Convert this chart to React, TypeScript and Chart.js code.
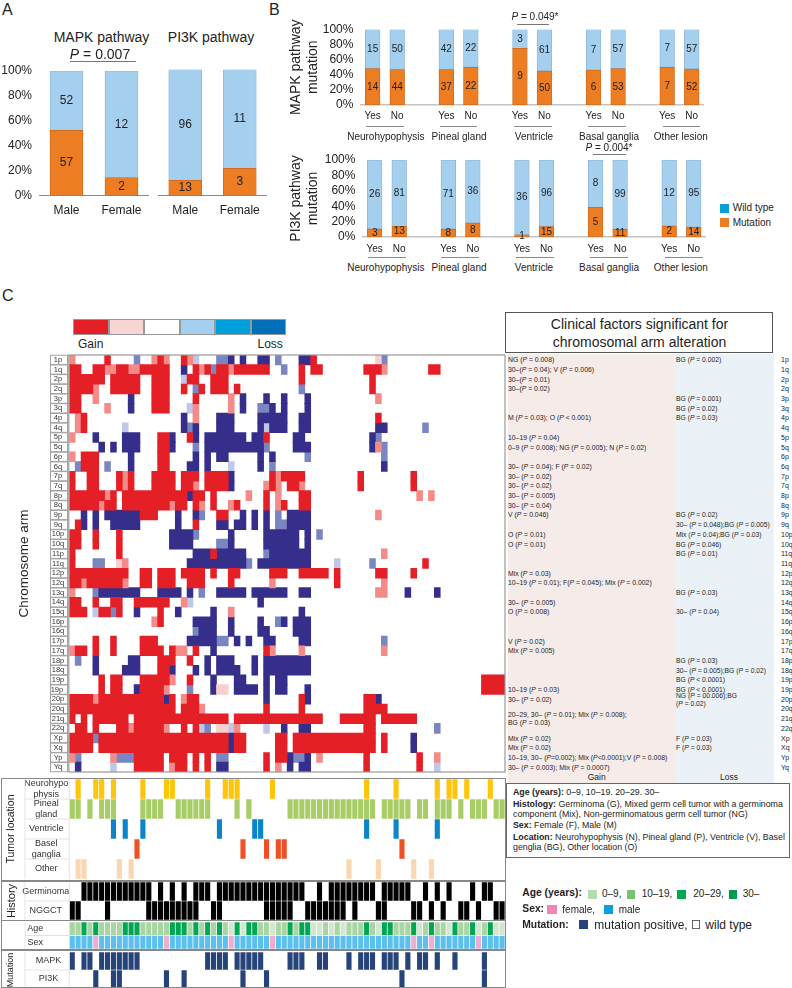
import React, { useEffect, useRef } from "react";
import Chart from "chart.js/auto";

const FONT = '"Liberation Sans", Arial, sans-serif';
const INK = "#222";

// ---------- Panel A data ----------
const sexCategories = ["Male", "Female"];
const mapkSexMutation = [57, 2];
const mapkSexWild = [52, 12];
const pi3kSexMutation = [13, 3];
const pi3kSexWild = [96, 11];

// ---------- Panel B data ----------
const siteCategories = ["Yes", "No", "", "Yes", "No", "", "Yes", "No", "", "Yes", "No", "", "Yes", "No"];
const siteGroups = ["Neurohypophysis", "Pineal gland", "Ventricle", "Basal ganglia", "Other lesion"];
const mapkSiteMutation = [14, 44, null, 37, 22, null, 9, 50, null, 6, 53, null, 7, 52];
const mapkSiteWild = [15, 50, null, 42, 22, null, 3, 61, null, 7, 57, null, 7, 57];
const pi3kSiteMutation = [3, 13, null, 8, 8, null, 1, 15, null, 5, 11, null, 2, 14];
const pi3kSiteWild = [26, 81, null, 71, 36, null, 36, 96, null, 8, 99, null, 12, 95];

// ---------- Panel C heat map data ----------
const armLabels = ["1p", "1q", "2p", "2q", "3p", "3q", "4p", "4q", "5p", "5q", "6p", "6q", "7p", "7q", "8p", "8q", "9p", "9q", "10p", "10q", "11p", "11q", "12p", "12q", "13q", "14q", "15q", "16p", "16q", "17p", "17q", "18p", "18q", "19p", "19p ", "20p", "20q", "21q", "22q", "Xp", "Xq", "Yp", "Yq"];
const sideLabels = ["1p", "1q", "2p", "2q", "3p", "3q", "4p", "4q", "5p", "5q", "6p", "6q", "7p", "7q", "8p", "8q", "9p", "9q", "10p", "10q", "11q", "11q", "12p", "12q", "13q", "14q", "15q", "16p", "16q", "17p", "17q", "18p", "18q", "19p", "19p", "20p", "20q", "21q", "22q", "Xp", "Xq", "Yp", "Yq"];
// R strong gain, r gain, p weak gain, B strong loss, b loss, c weak loss; numbers are patient columns
const armCalls = [
  "r0 R6 b11 r14 R15 r16 R19 r20 c21 b25-26 B27 B29 B32-33 b35 B39-40 R41 p52 b53",
  "R0-1 R4-5 r6-7 R8-9 r10-11 R12-16 B19 R21 r22 R23 b24 R25-26 r27 R28-33 b36 R39 R41-42 R50-52 r53 R61-62",
  "R0-5 R7-11 R14-16 c19 R20-21 R24-26 R39 R51",
  "R0-3 r4 R7-11 R14-16 R19 b21 R22 R24-26 R28 b39 R51",
  "R0-1 r4 B10 R14-16 R21 r27 B29 B33 B36 B40 r52",
  "R0-1 r6 B10 R14-16 c20 r21 r27 B29 b32-33 B34 B36 B40",
  "r1 R2 B19 r21 B25-27 B32-36 B39-40 R52",
  "r1 R2 c9 B19 b20 B21 B25-27 B32 c33 B34-36 B39-40 B52-53 b60",
  "r0 B4 B9-11 R15-16 B17 R20 B21 B23-29 B31-32 R33 B38-39 B51 b52",
  "B5 B7 B9-11 R15-16 B17 b21 B23-32 b33 B38-40 B51 r52 b53",
  "r0 R2-4 B10 R15-16 B21 B23 B25-26 B32 B34 b40 b53",
  "b1 R2-4 b6 B10 R15-16 B20-21 B23 c27 B32 b34 B53",
  "R0 R3-4 R8 r9 R10 R14-17 R19-21 R23-26 B27 R34 r35 R36-39 R49 R58",
  "R0 R3-4 R8 r9 R10 R14-17 R19-20 r21 R23-26 B27 r33 R34 r35 R37-38 r39 R49 R58",
  "R0-5 r6 R7 R9-19 B20 R21-22 R24 r30 R33 r35 R39-40 r59 r61",
  "R0-4 r5 R6-7 R9-16 r17 R18-19 R21 r22 R24 r27 R28 R33 r35 R36 R39-40",
  "B2 B4 B6-11 R12-14 B18 B21 b22 R25-26 B29 B31 B33 b35 B37-40 r52",
  "R1 B2 B4 B7-11 B18 R21 B25-26 B28-29 B31 B33 b35-36 B37-40",
  "R0-1 R4 R8 B17-20 b21 B27 B33-38 B40 b42",
  "R0-1 R4 R8 B17-20 b25-26 B27 B33-38 B40",
  "R0 R8 B21-23 R24 B25-29 b33 B34-40 r53",
  "R0 b4-5 p8 r9 B20-29 b30 B32-40 c45 b51 R60",
  "R0-9 R12-13 R15-17 R19-22 R24 R27-28 R34-36 R39-43 R45 R52-53 R58",
  "R0-1 r2 R3-8 r9 R12-13 R15-17 R20-22 R27 r34 R45 r53",
  "r0 b4 B5-11 B15-18 B20 b22 B25-29 B31-36 B39-40 r52-53 B57 B62",
  "R0-1 R4 R7-8 R11-16 r19 c20 B32",
  "R0-2 c4 R5-6 b7 R8 B11 R15 B18 B24 r27 B39",
  "r14 R15 B21-24 B27 B32 b35 B36 B38-40",
  "b21 B22-24 B27 B32-33 B38-40",
  "R4 R7 R12-14 B20-24 b25-26 B28 B30 B33-34 B39-40 b53",
  "r0 R1-2 R4 R7 R12-15 R17 r18-19 R21 B24 R33 r34 r39 r53",
  "b1 B4 B10-11 R15-17 R20 B23 B25-27 B31 B33-40",
  "B4 B9-11 R15-16 B17 B21 B23 B25-28 B31 B33-40",
  "R5 R7-8 R12-16 r17 R20 B24 B28-29 B33 B35-36 R70-73",
  "R5 R7-8 B11 R12-15 r16 b20 B24 p25-26 B28-31 B33 B35-36 B40 R70-73",
  "R0-3 r4 R5-15 B16 R17 r19 R20-21 B33 R39 B40 R50-51 B52",
  "R0-17 R19-21 r22 R33 R39 R50-53",
  "R0 R2 R4-9 R11-26 R28-42 R46-51 R53-58",
  "R1-2 R4 R8-9 r10 R11-15 r16 R19 R21 c22 b23 p25-26 c27 r28 c33 B36 B39-40 R50-51 b62",
  "R0-3 b4 R5-26 B27 R28-29 R35-36 R38-51 R53 B58",
  "R0-3 R5-26 B27 R28-29 R35-36 R38-51 R53 B58",
  "r0 b1 r7 b8-10 R11-15 R17-19 R21 R23 b25-26 R33 R35-36 B37 b38-39 B40 r42 R50 R59 r62",
  "B1 c7 R11-15 r17 R18-19 R21 R23 B25-26 R33 r35 B37 B39-40 R50 R59 c62",
];
const patientCount = 74;

// ---------- annotation tracks ----------
const locNeuro = [1, 4, 5, 7, 12, 16, 17, 23, 26, 27, 28, 34, 50, 55, 62, 64, 65, 67, 71];
const locPineal = [0, 1, 3, 5, 6, 7, 12, 13, 14, 15, 18, 19, 20, 21, 22, 23, 28, 30, 37, 38, 39, 40, 41, 42, 43, 44, 45, 46, 47, 48, 49, 50, 51, 53, 54, 55, 56, 57, 59, 60, 62, 63, 64, 66, 68, 69, 70, 72, 73];
const locVentricle = [7, 9, 12, 25, 31, 32, 50, 55, 62];
const locBasal = [11, 29, 33, 35, 36, 56];
const locOther = [1, 2, 8, 10, 47, 52, 58, 61];
const histGerminoma = [2, 3, 4, 5, 6, 7, 8, 9, 10, 11, 12, 13, 15, 17, 19, 21, 22, 23, 25, 26, 27, 28, 29, 30, 31, 32, 33, 34, 35, 36, 37, 38, 39, 42, 44, 45, 46, 47, 48, 49, 50, 51, 53, 54, 55, 56, 57, 60, 62, 64, 68, 70, 71];
const histNggct = [0, 1, 6, 13, 14, 15, 16, 17, 18, 19, 20, 21, 24, 25, 33, 34, 35, 36, 37, 40, 41, 42, 43, 44, 45, 46, 48, 52, 53, 58, 59, 61, 63, 66, 67, 69, 72, 73];
const ageYoung = [27, 29, 34, 41, 42, 44, 46, 52, 59, 64, 69, 72, 73];
const ageMiddle = [0, 1, 3, 5, 6, 7, 8, 12, 13, 14, 15, 16, 20, 22, 24, 26, 32, 33, 35, 36, 38, 43, 45, 47, 48, 49, 51, 55, 56, 57, 60, 62, 63, 66, 67, 70];
const ageOld = [2, 4, 9, 10, 11, 17, 18, 19, 21, 23, 25, 28, 30, 31, 37, 39, 40, 50, 53, 54, 58, 61, 65, 68, 71];
const sexFemale = [4, 16, 27, 34, 58, 61, 69];
const sexMale = [0, 1, 2, 3, 5, 6, 7, 8, 9, 10, 11, 12, 13, 14, 15, 17, 18, 19, 20, 21, 22, 23, 24, 25, 26, 28, 29, 30, 31, 32, 33, 35, 36, 37, 38, 39, 40, 41, 42, 43, 44, 45, 46, 47, 48, 49, 50, 51, 52, 53, 54, 55, 56, 57, 59, 60, 62, 63, 64, 65, 66, 67, 68, 70, 71, 72, 73];
const mutMapk = [0, 2, 3, 5, 6, 7, 8, 9, 10, 11, 23, 24, 25, 26, 28, 29, 30, 31, 32, 37, 38, 39, 42, 43, 47, 49, 50, 51, 53, 54, 55, 57, 59, 60, 62, 65, 70];
const mutPi3k = [4, 7, 8, 16, 19, 29, 33, 56, 70];

// ---------- clinical table ----------
const gainNotes = ["NG (P = 0.008)", "30–(P = 0.04); V (P = 0.006)", "30–(P = 0.01)", "30–(P = 0.02)", "", "", "M (P = 0.03); O (P < 0.001)", "", "10–19 (P = 0.04)", "0–9 (P = 0.008); NG (P = 0.005); N (P = 0.02)", "", "30– (P = 0.04); F (P = 0.02)", "30– (P = 0.02)", "30– (P = 0.02)", "30– (P = 0.005)", "30– (P = 0.04)", "V (P = 0.046)", "", "O (P = 0.01)", "O (P = 0.01)", "", "", "Mix (P = 0.03)", "10–19 (P = 0.01); F(P = 0.045); Mix (P = 0.002)", "", "30– (P = 0.005)", "O (P = 0.008)", "", "", "V (P = 0.02)", "Mix (P = 0.005)", "", "", "", "10–19 (P = 0.03)", "30– (P = 0.02)", "", "20–29, 30– (P = 0.01); Mix (P = 0.008);\nBG (P = 0.03)", "", "Mix (P = 0.02)", "Mix (P = 0.02)", "10–19, 30– (P=0.002); Mix (P<0.0001);V (P = 0.008)", "30– (P = 0.003); Mix (P = 0.0007)"];
const lossNotes = ["BG (P = 0.002)", "", "", "", "BG (P = 0.001)", "BG (P = 0.02)", "BG (P = 0.03)", "", "", "", "", "", "", "", "", "", "BG (P = 0.02)", "30– (P = 0.048);BG (P = 0.005)", "Mix (P = 0.04);BG (P = 0.03)", "BG (P = 0.046)", "BG (P = 0.01)", "", "", "", "BG (P = 0.03)", "", "30– (P = 0.04)", "", "", "", "", "BG (P = 0.03)", "30– (P = 0.005);BG (P = 0.02)", "BG (P < 0.0001)", "BG (P < 0.0001)", "NG (P = 00.006);BG\n(P = 0.02)", "", "", "", "F (P = 0.03)", "F (P = 0.03)", "", ""];

// ---------- styles ----------
const WILD = "#a5cfee";
const MUT = "#ec7d22";
const levelColors: Record<string, string> = { R: "#e41f26", r: "#f48b89", p: "#f7cfce", B: "#352e8a", b: "#7a86c2", c: "#bfc8e8" };

const pct = (a: (number | null)[], b: (number | null)[]) =>
  a.map((v, i) => (v == null ? null : (v / (v + (b[i] as number))) * 100));

const fitWidth = (w: number) => (s: any) => {
  s.width = w;
  s.paddingTop = 0;
  s.paddingBottom = 0;
};
const fitHeight = (h: number) => (s: any) => {
  s.height = h;
  s.paddingLeft = 0;
  s.paddingRight = 0;
};

const countPlugin = {
  id: "countLabels",
  afterDatasetsDraw(chart: any) {
    const { ctx } = chart;
    const size = chart.options.plugins.countLabels.size;
    ctx.save();
    ctx.fillStyle = INK;
    ctx.font = `${size}px ${FONT}`;
    ctx.textAlign = "center";
    ctx.textBaseline = "middle";
    chart.data.datasets.forEach((ds: any, d: number) => {
      chart.getDatasetMeta(d).data.forEach((el: any, i: number) => {
        if (ds.counts[i] == null) return;
        const mid = (el.y + el.base) / 2;
        ctx.fillText(String(ds.counts[i]), el.x, mid);
      });
    });
    ctx.restore();
  },
};

function stackedConfig(opts: any) {
  const { categories, mutation, wild, barW, fontSize, labelSize, plotLeft, plotTop, axisH, showY, titleLines, titleSize, tickPad, border, borderW } = opts;
  return {
    type: "bar",
    data: {
      labels: categories,
      datasets: [
        { label: "Mutation", data: pct(mutation, wild), counts: mutation, backgroundColor: MUT, borderColor: "#c9681c", borderWidth: 0.8, borderSkipped: false, stack: "s", barThickness: barW },
        { label: "Wild type", data: pct(wild, mutation), counts: wild, backgroundColor: WILD, borderColor: "#8fb3cf", borderWidth: 0.8, borderSkipped: false, stack: "s", barThickness: barW },
      ],
    },
    options: {
      responsive: false,
      animation: false,
      layout: { padding: { top: plotTop, left: 0, right: 0, bottom: 0 } },
      plugins: { legend: { display: false }, tooltip: { enabled: false }, countLabels: { size: labelSize } },
      scales: {
        x: {
          stacked: true,
          grid: { display: false, drawTicks: false },
          border: { display: true, color: border, width: borderW },
          afterFit: fitHeight(axisH),
          ticks: { font: { size: fontSize, family: FONT }, color: INK, padding: tickPad, autoSkip: false, maxRotation: 0 },
        },
        y: {
          stacked: true,
          min: 0,
          max: 100,
          display: showY,
          grid: { display: false, drawTicks: false },
          border: { display: false },
          afterFit: fitWidth(plotLeft),
          title: titleLines ? { display: true, text: titleLines, color: INK, font: { size: titleSize, family: FONT, lineHeight: 1.24 }, padding: { top: 1, bottom: 0 } } : { display: false },
          ticks: { stepSize: 20, autoSkip: false, font: { size: 12, family: FONT }, color: INK, padding: 7, callback: (v: number) => v + "%" },
        },
      },
    },
    plugins: [countPlugin],
  };
}

function parseCalls() {
  const byLevel: Record<string, any[]> = { R: [], r: [], p: [], B: [], b: [], c: [] };
  armCalls.forEach((line, row) => {
    line.split(" ").forEach((tok) => {
      const m = tok.match(/^([RrpBbc])(\d+)(?:-(\d+))?$/);
      if (!m) return;
      const a = +m[2];
      const b = m[3] ? +m[3] : a;
      byLevel[m[1]].push({ y: armLabels[row], x: [a, b + 1] });
    });
  });
  return byLevel;
}

const boxPlugin = {
  id: "armBoxes",
  afterDraw(chart: any) {
    const { ctx, chartArea: a, scales } = chart;
    ctx.save();
    ctx.strokeStyle = "#a3a3a3";
    ctx.lineWidth = 1;
    armLabels.forEach((_, i) => {
      const c = scales.y.getPixelForTick(i);
      ctx.strokeRect(50.5, c - 4.6, 17, 9.2);
    });
    ctx.lineWidth = 1.2;
    ctx.strokeStyle = "#999";
    ctx.strokeRect(a.left - 0.5, a.top, a.right - a.left + 0.5, a.bottom - a.top);
    ctx.restore();
  },
};

function heatConfig() {
  const byLevel = parseCalls();
  return {
    type: "bar",
    data: {
      labels: armLabels,
      datasets: Object.keys(byLevel).map((k) => ({
        label: k,
        data: byLevel[k],
        backgroundColor: levelColors[k],
        borderWidth: 0,
        barThickness: 9.9,
        grouped: false,
      })),
    },
    options: {
      indexAxis: "y",
      responsive: false,
      animation: false,
      layout: { padding: { top: 10, bottom: 3, left: 0, right: 1 } },
      plugins: { legend: { display: false }, tooltip: { enabled: false } },
      scales: {
        x: { type: "linear", min: 0, max: patientCount, display: false },
        y: {
          type: "category",
          grid: { display: false, drawTicks: false },
          border: { display: false },
          afterFit: fitWidth(69.3),
          title: { display: true, text: "Chromosome arm", color: INK, font: { size: 13.5, family: FONT }, padding: { top: 16, bottom: 0 } },
          ticks: { autoSkip: false, font: { size: 7.5, family: FONT }, color: "#333", padding: 4, crossAlign: "center" },
        },
      },
    },
    plugins: [boxPlugin],
  };
}

const rowLinePlugin = {
  id: "rowLines",
  afterDraw(chart: any) {
    const { ctx, chartArea: a } = chart;
    const n = chart.data.labels.length;
    ctx.save();
    ctx.strokeStyle = "#dcdcdc";
    ctx.lineWidth = 0.8;
    ctx.beginPath();
    for (let i = 1; i < n; i++) {
      const y = a.top + ((a.bottom - a.top) * i) / n;
      ctx.moveTo(25, y);
      ctx.lineTo(a.left, y);
    }
    ctx.moveTo(25, a.top);
    ctx.lineTo(25, a.bottom);
    ctx.moveTo(a.left, a.top);
    ctx.lineTo(a.left, a.bottom);
    ctx.stroke();
    ctx.restore();
  },
};

function trackConfig(rows: { label: string; cols: number[]; color: string; lane?: string }[], labels: string[], title: string, titleSize: number, labelPad: number) {
  return {
    type: "bar",
    data: {
      labels,
      datasets: rows.map((r) => ({
        label: r.label,
        data: r.cols.map((c) => ({ y: r.lane ?? r.label, x: [c, c + 1] })),
        backgroundColor: r.color,
        borderColor: "rgba(255,255,255,0.55)",
        borderWidth: 0.7,
        borderSkipped: false,
        categoryPercentage: 1,
        barPercentage: 1,
        grouped: false,
      })),
    },
    options: {
      indexAxis: "y",
      responsive: false,
      animation: false,
      layout: { padding: 0 },
      plugins: { legend: { display: false }, tooltip: { enabled: false } },
      scales: {
        x: { type: "linear", min: 0, max: patientCount, display: false },
        y: {
          type: "category",
          grid: { display: false, drawTicks: false },
          border: { display: false },
          afterFit: fitWidth(69.3),
          title: { display: !!title, text: title, color: INK, font: { size: titleSize, family: FONT }, padding: { top: 5, bottom: 0 } },
          ticks: { autoSkip: false, font: { size: 9, family: FONT }, color: "#333", padding: labelPad, crossAlign: "center", callback: (_: any, i: number) => labels[i].split("|") },
        },
      },
    },
    plugins: [rowLinePlugin],
  };
}

function ChartBox({ left, top, width, height, config }: any) {
  const ref = useRef<HTMLCanvasElement>(null);
  useEffect(() => {
    const chart = new Chart(ref.current as HTMLCanvasElement, config());
    return () => chart.destroy();
  }, []);
  return <canvas ref={ref} width={width} height={height} style={{ position: "absolute", left, top, width, height, display: "block" }} />;
}

function T({ x, y, size, align = "left", bold, children, color = INK }: any) {
  const tx = align === "center" ? "-50%" : align === "right" ? "-100%" : "0";
  return (
    <div style={{ position: "absolute", left: x, top: y, fontSize: size, fontWeight: bold ? 700 : 400, color, whiteSpace: "pre", lineHeight: 1.2, transform: `translate(${tx},-50%)`, textAlign: align, opacity: 0.99 }}>
      {children}
    </div>
  );
}

const Rect = ({ x, y, w, h, c, b }: any) => (
  <div style={{ position: "absolute", left: x, top: y, width: w, height: h, background: c, border: b, boxSizing: "border-box" }} />
);

// italicises the statistic symbol P in the notes
function ital(s: string) {
  return s.split(/(\bP\b)/).map((p, i) => (p === "P" ? <i key={i}>P</i> : <span key={i}>{p}</span>));
}

const rowY = (r: number) => 355 + 9.7 * (r + 0.5) + 0.4;
const colorbar = ["#e41f26", "#f6d5d3", "#ffffff", "#a5cfee", "#00a0dc", "#0070b8"];
const groupCenters = [385.8, 459, 534, 609, 680.8];
const topLines = [[366, 404], [439.7, 477.5], [514, 552], [588, 625.7], [662.7, 700]];
const botLines = [[367.7, 405.7], [441.3, 479.3], [516.3, 554.3], [590, 628], [664.7, 702.7]];

export default function App() {
  const locLabels = ["Neurohypo|physis", "Pineal|gland", "Ventricle", "Basel|ganglia", "Other"];
  return (
    <div style={{ position: "absolute", left: 0, top: 0, width: 792, height: 988, overflow: "hidden", background: "#fff", fontFamily: FONT }}>
      {/* Panel letters */}
      <T x={2} y={10} size={16}>A</T>
      <T x={269} y={10} size={16}>B</T>
      <T x={2} y={296} size={16}>C</T>

      {/* Panel A */}
      <ChartBox left={0} top={60} width={149} height={160} config={() => stackedConfig({ categories: sexCategories, mutation: mapkSexMutation, wild: mapkSexWild, barW: 33, fontSize: 12, labelSize: 12, plotLeft: 39, plotTop: 11, axisH: 24.7, showY: true, tickPad: 8, border: "#888", borderW: 1 })} />
      <ChartBox left={158} top={60} width={109} height={160} config={() => stackedConfig({ categories: sexCategories, mutation: pi3kSexMutation, wild: pi3kSexWild, barW: 33, fontSize: 12, labelSize: 12, plotLeft: 0, plotTop: 9.5, axisH: 24.7, showY: false, tickPad: 8, border: "#888", borderW: 1 })} />
      <T x={101.5} y={37} size={14} align="center">MAPK pathway</T>
      <T x={211} y={37} size={14} align="center">PI3K pathway</T>
      <T x={100} y={54} size={14} align="center"><i>P</i> = 0.007</T>
      <Rect x={70} y={61} w={66} h={1} c="#777" />

      {/* Panel B */}
      <ChartBox left={286} top={19} width={418} height={106} config={() => stackedConfig({ categories: siteCategories, mutation: mapkSiteMutation, wild: mapkSiteWild, barW: 14.7, fontSize: 10, labelSize: 10, plotLeft: 74.4, plotTop: 10.5, axisH: 20, showY: true, titleLines: ["MAPK pathway", "mutation"], titleSize: 14, tickPad: 5, border: "#c4c4c4", borderW: 1.5 })} />
      <ChartBox left={286} top={150} width={420} height={107} config={() => stackedConfig({ categories: siteCategories, mutation: pi3kSiteMutation, wild: pi3kSiteWild, barW: 14.7, fontSize: 10, labelSize: 10, plotLeft: 76.4, plotTop: 10, axisH: 20, showY: true, titleLines: ["PI3K pathway", "mutation"], titleSize: 14, tickPad: 6, border: "#c4c4c4", borderW: 1.5 })} />
      <T x={535} y={17} size={10} align="center"><i>P</i> = 0.049*</T>
      <Rect x={517} y={23.5} w={32} h={1} c="#777" />
      <T x={609} y={148.3} size={10} align="center"><i>P</i> = 0.004*</T>
      <Rect x={593} y={154} w={33} h={1} c="#777" />
      {siteGroups.map((g, i) => (
        <React.Fragment key={g}>
          <Rect x={topLines[i][0]} y={126.3} w={topLines[i][1] - topLines[i][0]} h={1} c="#8a8a8a" />
          <T x={groupCenters[i]} y={137} size={10} align="center">{g}</T>
          <Rect x={botLines[i][0]} y={256.7} w={botLines[i][1] - botLines[i][0]} h={1} c="#8a8a8a" />
          <T x={groupCenters[i]} y={268.3} size={10} align="center">{g}</T>
        </React.Fragment>
      ))}
      <Rect x={720} y={203.5} w={8.5} h={9} c="#0a9fd8" />
      <T x={732.7} y={208.3} size={10}>Wild type</T>
      <Rect x={720} y={218} w={8.5} h={9} c={MUT} />
      <T x={732.7} y={223} size={10}>Mutation</T>

      {/* Colour bar */}
      {colorbar.map((c, i) => (
        <Rect key={i} x={73.3 + i * 35.5} y={319.3} w={35.5} h={15.7} c={c} b="1px solid #999" />
      ))}
      <T x={78} y={344} size={12}>Gain</T>
      <T x={257.5} y={344} size={12}>Loss</T>

      {/* Clinical table background */}
      <Rect x={508} y={354} w={167.7} h={431} c="#f5ebe9" />
      <Rect x={675.7} y={354} w={98.3} h={431} c="#eaf2f7" />

      {/* Heat map */}
      <ChartBox left={0} top={345} width={506} height={430} config={heatConfig} />

      {/* Clinical table */}
      <Rect x={505.3} y={311.7} w={268} h={41.5} c="#fff" b="1.3px solid #555" />
      <T x={639.5} y={324} size={14} align="center">Clinical factors significant for</T>
      <T x={639.5} y={342} size={14} align="center">chromosomal arm alteration</T>
      {gainNotes.map((s, i) => (s ? <T key={"g" + i} x={508} y={rowY(i)} size={6.85}>{ital(s)}</T> : null))}
      {lossNotes.map((s, i) => (s ? <T key={"l" + i} x={676} y={rowY(i)} size={6.75}>{ital(s)}</T> : null))}
      {sideLabels.map((s, i) => (
        <T key={"s" + i} x={781} y={rowY(i)} size={7}>{s}</T>
      ))}
      <T x={596.7} y={776.7} size={8.5} align="center">Gain</T>
      <T x={729} y={776.7} size={8.5} align="center">Loss</T>

      {/* Annotation tracks */}
      <ChartBox left={0} top={779} width={505} height={100} config={() => trackConfig([
        { label: locLabels[0], cols: locNeuro, color: "#fdc60a" },
        { label: locLabels[1], cols: locPineal, color: "#a8cc66" },
        { label: locLabels[2], cols: locVentricle, color: "#0b84c9" },
        { label: locLabels[3], cols: locBasal, color: "#ee5125" },
        { label: locLabels[4], cols: locOther, color: "#fad7b0" },
      ], locLabels, "Tumor location", 10.5, 1)} />
      <ChartBox left={0} top={881.7} width={505} height={38} config={() => trackConfig([
        { label: "Germinoma", cols: histGerminoma, color: "#000" },
        { label: "NGGCT", cols: histNggct, color: "#000" },
      ], ["Germinoma", "NGGCT"], "History", 11, 0)} />
      <ChartBox left={0} top={921.7} width={505} height={27} config={() => trackConfig([
        { label: "0–9", lane: "Age", cols: ageYoung, color: "#d3e7d0" },
        { label: "10–19", lane: "Age", cols: ageMiddle, color: "#a9d5a2" },
        { label: "20–29", lane: "Age", cols: ageOld, color: "#00a651" },
        { label: "female", lane: "Sex", cols: sexFemale, color: "#f0aecf" },
        { label: "male", lane: "Sex", cols: sexMale, color: "#5bc0ef" },
      ], ["Age", "Sex"], "", 9, 26)} />
      <ChartBox left={0} top={951.7} width={505} height={36} config={() => trackConfig([
        { label: "MAPK", cols: mutMapk, color: "#264479" },
        { label: "PI3K", cols: mutPi3k, color: "#264479" },
      ], ["MAPK", "PI3K"], "Mutation", 9, 8)} />
      {/* frame */}
      <Rect x={1} y={778} w={504.5} h={210} b="1px solid #888" />
      <Rect x={1} y={879.6} w={504} h={1.2} c="#888" />
      <Rect x={1} y={881.2} w={504} h={0.8} c="#888" />
      <Rect x={1} y={920} w={504} h={1.2} c="#888" />
      <Rect x={1} y={949.2} w={504} h={1.6} c="#888" />

      {/* Definitions box */}
      <div style={{ position: "absolute", left: 506, top: 782.7, width: 284, height: 75.6, border: "1.5px solid #666", boxSizing: "border-box", background: "#fff" }} />
      <T x={513} y={792} size={8.8}><b>Age (years):</b> 0–9, 10–19. 20–29. 30–</T>
      <T x={513} y={803.7} size={8.8}><b>Histology:</b> Germinoma (G), Mixed germ cell tumor with a germinoma</T>
      <T x={513} y={814} size={8.8}>component (Mix), Non-germinomatous germ cell tumor (NG)</T>
      <T x={513} y={825} size={8.8}><b>Sex:</b> Female (F), Male (M)</T>
      <T x={513} y={836.7} size={8.8}><b>Location:</b> Neurohypophysis (N), Pineal gland (P), Ventricle (V), Basel</T>
      <T x={513} y={847.3} size={8.8}>genglia (BG), Other location (O)</T>

      {/* Key */}
      <T x={522.3} y={893} size={10.3} bold>Age (years):</T>
      <Rect x={587.7} y={890} w={9.5} h={8.5} c="#b4dcb1" />
      <T x={602} y={894} size={10}>0–9,</T>
      <Rect x={626.7} y={890} w={8.5} h={8.5} c="#75c270" />
      <T x={641.7} y={894} size={10}>10–19,</T>
      <Rect x={677.3} y={890} w={8.7} h={8.5} c="#00a94f" />
      <T x={693.3} y={894} size={10}>20–29,</T>
      <Rect x={728.7} y={890} w={8.5} h={8.5} c="#009a4e" />
      <T x={742.7} y={894} size={10}>30–</T>
      <T x={522.3} y={909.3} size={10.3} bold>Sex:</T>
      <Rect x={547.3} y={905} w={9.4} h={8.5} c="#ef86b5" />
      <T x={562.3} y={909.5} size={10}>female,</T>
      <Rect x={603.7} y={905} w={9} h={8.5} c="#0a9fe0" />
      <T x={618.7} y={909.5} size={10}>male</T>
      <T x={522.3} y={925} size={10.3} bold>Mutation:</T>
      <Rect x={578.7} y={920} w={9.3} h={8.5} c="#264479" />
      <T x={594.3} y={924.7} size={12}>mutation positive,</T>
      <Rect x={691.7} y={920} w={8.5} h={8.5} c="#fff" b="1px solid #666" />
      <T x={705.3} y={924.7} size={12}>wild type</T>
    </div>
  );
}
